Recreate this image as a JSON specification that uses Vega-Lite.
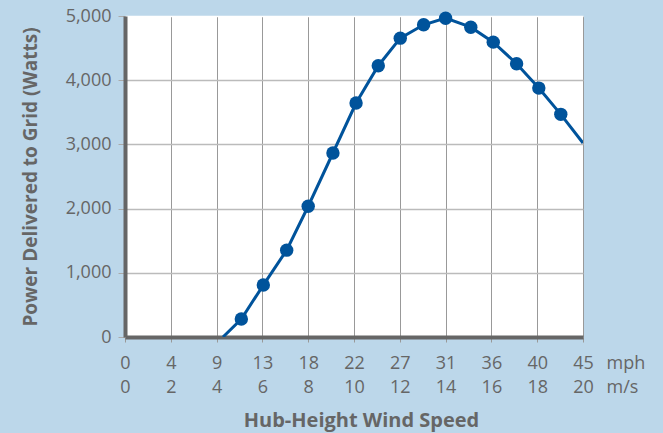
{
  "$schema": "https://vega.github.io/schema/vega-lite/v6.json",
  "width": 458,
  "height": 321,
  "autosize": "none",
  "padding": {"left": 125, "top": 16, "right": 80, "bottom": 96},
  "background": "#bcd7ea",
  "config": {
    "view": {"fill": "white", "stroke": null},
    "font": "Open Sans",
    "axis": {"labelColor": "#666666", "titleColor": "#666666", "labelFont": "Open Sans", "titleFont": "Open Sans"}
  },
  "data": {
    "values": [
      {"ms": 4.28, "watts": 0, "marker": false},
      {"ms": 5.08, "watts": 280, "marker": true},
      {"ms": 6.04, "watts": 809, "marker": true},
      {"ms": 7.06, "watts": 1353, "marker": true},
      {"ms": 8.0, "watts": 2037, "marker": true},
      {"ms": 9.08, "watts": 2866, "marker": true},
      {"ms": 10.09, "watts": 3644, "marker": true},
      {"ms": 11.06, "watts": 4226, "marker": true},
      {"ms": 12.02, "watts": 4655, "marker": true},
      {"ms": 13.04, "watts": 4863, "marker": true},
      {"ms": 14.0, "watts": 4966, "marker": true},
      {"ms": 15.1, "watts": 4826, "marker": true},
      {"ms": 16.08, "watts": 4593, "marker": true},
      {"ms": 17.1, "watts": 4257, "marker": true},
      {"ms": 18.07, "watts": 3877, "marker": true},
      {"ms": 19.03, "watts": 3468, "marker": true},
      {"ms": 20.0, "watts": 3022, "marker": false}
    ]
  },
  "layer": [
    {
      "mark": {"type": "line", "color": "#00539b", "strokeWidth": 3, "clip": true},
      "encoding": {
        "x": {
          "field": "ms", "type": "quantitative",
          "scale": {"domain": [0, 20], "nice": false, "zero": false},
          "axis": {
            "orient": "bottom",
            "values": [0, 2, 4, 6, 8, 10, 12, 14, 16, 18, 20],
            "labelExpr": "[toString(round(datum.value * 2.23694)), datum.label]",
            "labelFontSize": 18,
            "labelLineHeight": 24.5,
            "labelPadding": 12,
            "labelOverlap": false,
            "labelFlush": false,
            "domainColor": "#666666",
            "domainWidth": 4,
            "tickColor": "#999999",
            "tickSize": 5,
            "tickWidth": 1,
            "grid": true,
            "gridColor": "#999999",
            "gridWidth": 1,
            "title": "Hub-Height Wind Speed",
            "titleFontSize": 20,
            "titleFontWeight": "bold",
            "titlePadding": 14,
            "titleX": 236
          }
        },
        "y": {
          "field": "watts", "type": "quantitative",
          "scale": {"domain": [0, 5000], "nice": false},
          "axis": {
            "values": [0, 1000, 2000, 3000, 4000, 5000],
            "format": ",d",
            "labelFontSize": 18,
            "labelPadding": 7,
            "domainColor": "#666666",
            "domainWidth": 4,
            "tickColor": "#aaaaaa",
            "tickSize": 7,
            "tickWidth": 1,
            "grid": true,
            "gridColor": {"condition": {"test": "datum.value == 5000", "value": "white"}, "value": "#bbbbbb"},
            "gridWidth": 1.5,
            "title": "Power Delivered to Grid (Watts)",
            "titleFontSize": 19,
            "titleFontWeight": "bold",
            "titlePadding": 25
          }
        }
      }
    },
    {
      "transform": [{"filter": "datum.marker"}],
      "mark": {"type": "point", "filled": true, "color": "#00539b", "opacity": 1, "size": 180},
      "encoding": {
        "x": {"field": "ms", "type": "quantitative", "axis": null},
        "y": {"field": "watts", "type": "quantitative"}
      }
    },
    {
      "data": {"values": [{"ms": 20}]},
      "mark": {"type": "point", "opacity": 0},
      "encoding": {
        "x": {
          "field": "ms", "type": "quantitative",
          "axis": {
            "orient": "bottom",
            "values": [20],
            "labelExpr": "['mph', 'm/s']",
            "labelAlign": "left",
            "labelOffset": 23,
            "labelFontSize": 18,
            "labelLineHeight": 24.5,
            "labelPadding": 12,
            "labelOverlap": false,
            "labelFlush": false,
            "domain": false,
            "ticks": true,
            "tickSize": 5,
            "tickOpacity": 0,
            "grid": false,
            "title": null
          }
        }
      }
    }
  ],
  "resolve": {"scale": {"x": "shared", "y": "shared"}, "axis": {"x": "independent"}}
}
